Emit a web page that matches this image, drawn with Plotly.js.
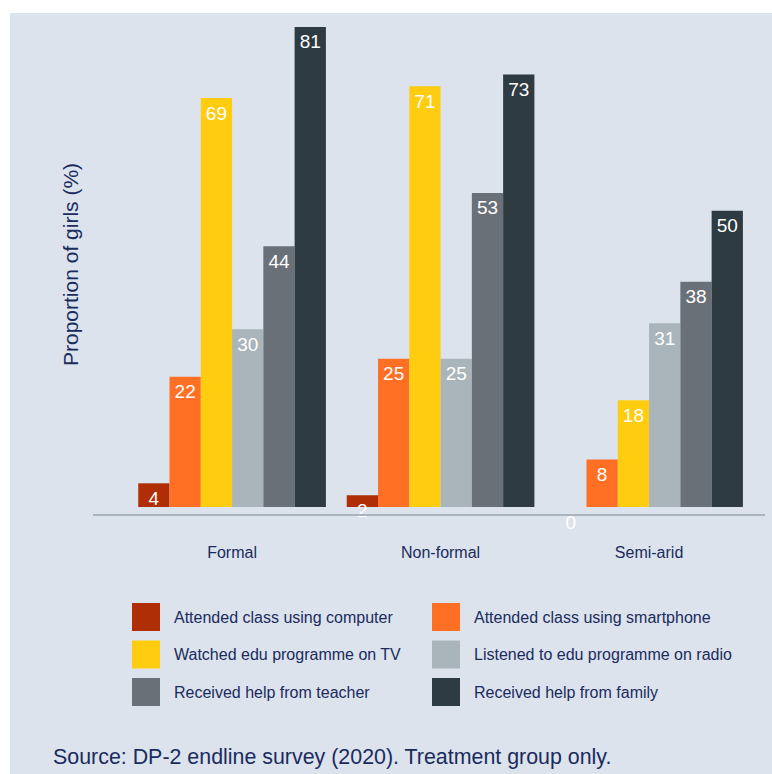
<!DOCTYPE html>
<html><head><meta charset="utf-8">
<script src="https://cdn.plot.ly/plotly-3.0.1.min.js"></script>
<style>
html,body{margin:0;padding:0;background:#ffffff;}
#chart{position:absolute;left:10px;top:13px;width:762px;height:761px;}
</style></head><body><div id="chart"></div>
<script>
// ---- data ----
const categories = ['Formal', 'Non-formal', 'Semi-arid'];
const seriesNames = [
  'Attended class using computer',
  'Attended class using smartphone',
  'Watched edu programme on TV',
  'Listened to edu programme on radio',
  'Received help from teacher',
  'Received help from family'
];
const computer   = [4, 2, 0];
const smartphone = [22, 25, 8];
const tv         = [69, 71, 18];
const radio      = [30, 25, 31];
const teacher    = [44, 53, 38];
const family     = [81, 73, 50];
const seriesValues = [computer, smartphone, tv, radio, teacher, family];
const colors = ['#b02e05', '#ff6f24', '#ffcc10', '#aab4bb', '#6a7078', '#2e3b42'];
const sourceNote = 'Source: DP-2 endline survey (2020). Treatment group only.';
const yTitle = 'Proportion of girls (%)';

const FONT = '"Liberation Sans", Arial, Helvetica, sans-serif';
const NAVY = '#1a2b5e';

const traces = [];
seriesValues.forEach((vals, i) => {
  traces.push({
    type: 'bar', x: categories, y: vals, name: seriesNames[i],
    offsetgroup: String(i), marker: {color: colors[i], line: {width: 0}},
    showlegend: false, hoverinfo: 'skip'
  });
});
seriesValues.forEach((vals, i) => {
  traces.push({
    type: 'scatter', mode: 'markers+text', x: categories, y: vals,
    marker: {size: 10, opacity: 0, color: colors[i]},
    text: vals.map(String), textposition: 'bottom center',
    textfont: {family: FONT, size: 19, color: '#ffffff'},
    offsetgroup: String(i), showlegend: false, hoverinfo: 'skip', cliponaxis: false
  });
});

// plot-area pixel frame (page coords) for custom legend placement
const PL = 93, PR = 765, PT = 15, PB = 514;
const xp = px => (px - PL) / (PR - PL);
const yp = py => (PB - py) / (PB - PT);

const shapes = [];
const annotations = [];
seriesNames.forEach((name, i) => {
  const col = i % 2, row = Math.floor(i / 2);
  const sx = 132 + col * 300, cy = 617 + row * 37.5;
  shapes.push({type: 'rect', xref: 'paper', yref: 'paper',
    x0: xp(sx), x1: xp(sx + 28), y0: yp(cy + 14), y1: yp(cy - 14),
    fillcolor: colors[i], line: {width: 0}});
  annotations.push({xref: 'paper', yref: 'paper', x: xp(sx + 40), y: yp(cy),
    xanchor: 'left', yanchor: 'middle', showarrow: false, text: name,
    font: {family: FONT, size: 16, color: NAVY}});
});
annotations.push({xref: 'paper', yref: 'paper', x: xp(51), y: yp(757),
  xanchor: 'left', yanchor: 'middle', showarrow: false, text: sourceNote,
  font: {family: FONT, size: 21.4, color: NAVY}});

const layout = {
  width: 762, height: 761,
  margin: {l: 83, r: 7, t: 2, b: 260, pad: 0},
  paper_bgcolor: '#dce3ec', plot_bgcolor: '#dce3ec',
  barmode: 'group', bargap: 0.1, bargroupgap: 0,
  scattermode: 'group', scattergap: 0.1,
  showlegend: false,
  font: {family: FONT, color: NAVY},
  xaxis: {
    type: 'category', range: [-0.667, 2.556], showgrid: false, zeroline: false,
    showline: true, linecolor: '#a9b4be', linewidth: 1.5, ticks: '',
    ticklabelstandoff: 23, tickfont: {family: FONT, size: 16, color: NAVY},
    fixedrange: true
  },
  yaxis: {
    range: [-1.18, 83.02], showgrid: false, zeroline: false, showline: false,
    showticklabels: false, ticks: '',
    title: {text: yTitle, standoff: 7, font: {family: FONT, size: 21, color: NAVY}},
    fixedrange: true
  },
  shapes: shapes,
  annotations: annotations
};

Plotly.newPlot('chart', traces, layout, {displayModeBar: false, staticPlot: true});
</script>
</body></html>
